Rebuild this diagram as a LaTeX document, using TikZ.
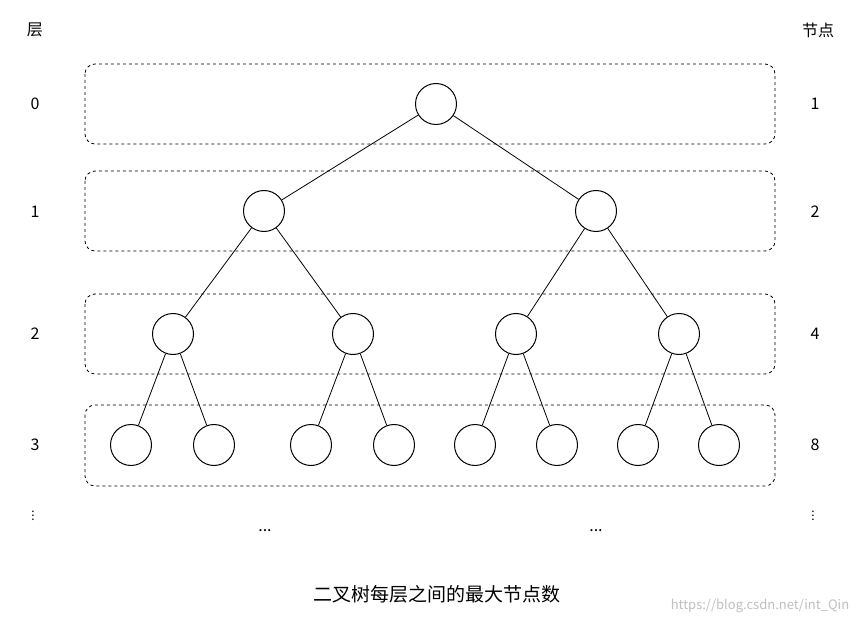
\documentclass[tikz,border=0pt]{standalone}
\usepackage{fontspec}
\setmainfont{Noto Sans CJK SC}
\begin{document}
\begin{tikzpicture}[x=1pt,y=-1pt,
  nd/.style={circle,draw,line width=1pt,minimum size=41pt,inner sep=0pt},
  lay/.style={draw,dashed,rounded corners=10pt,line width=0.8pt},
  lbl/.style={font=\fontsize{16}{18}\selectfont},
  edge/.style={line width=0.8pt}]
\useasboundingbox (0,0) rectangle (863,623);
\draw[lay] (85,64) rectangle (775,144);
\draw[lay] (85,171) rectangle (775,251);
\draw[lay] (85,294) rectangle (775,374);
\draw[lay] (85,405) rectangle (775,486);
\node[nd] (r) at (436,104) {};
\node[nd] (a) at (264,211) {};
\node[nd] (b) at (596,211) {};
\node[nd] (a1) at (173,334) {};
\node[nd] (a2) at (353,334) {};
\node[nd] (b1) at (516,334) {};
\node[nd] (b2) at (679,334) {};
\foreach \n/\x in {c1/131,c2/214,c3/311,c4/394,c5/475,c6/557,c7/638,c8/719}
  \node[nd] (\n) at (\x,445) {};
\foreach \p/\c in {r/a,r/b,a/a1,a/a2,b/b1,b/b2,a1/c1,a1/c2,a2/c3,a2/c4,b1/c5,b1/c6,b2/c7,b2/c8}
  \draw[edge] (\p) -- (\c);
\node[lbl] (hl) at (35,30) {层};
\node[lbl] (hr) at (818,30) {节点};
\node[lbl] (l0) at (35,104) {0};
\node[lbl] (l1) at (35,212) {1};
\node[lbl] (l2) at (35,334) {2};
\node[lbl] (l3) at (35,445) {3};
\node[inner sep=0pt,font=\fontsize{12}{12}\selectfont] (l4) at (33,513) {$\vdots$};
\node[lbl] (n0) at (815,104) {1};
\node[lbl] (n1) at (815,212) {2};
\node[lbl] (n2) at (815,334) {4};
\node[lbl] (n3) at (815,445) {8};
\node[inner sep=0pt,font=\fontsize{12}{12}\selectfont] (n4) at (813,513) {$\vdots$};
\node[lbl] (d1) at (265,531) {...};
\node[lbl] (d2) at (596,531) {...};
\node[font=\fontsize{19}{21}\selectfont] (cap) at (437,594) {二叉树每层之间的最大节点数};
\node[font=\fontsize{13}{15}\selectfont,text=black!25] (wm) at (760,606) {https://blog.csdn.net/int\_Qin};
\end{tikzpicture}
\end{document}
